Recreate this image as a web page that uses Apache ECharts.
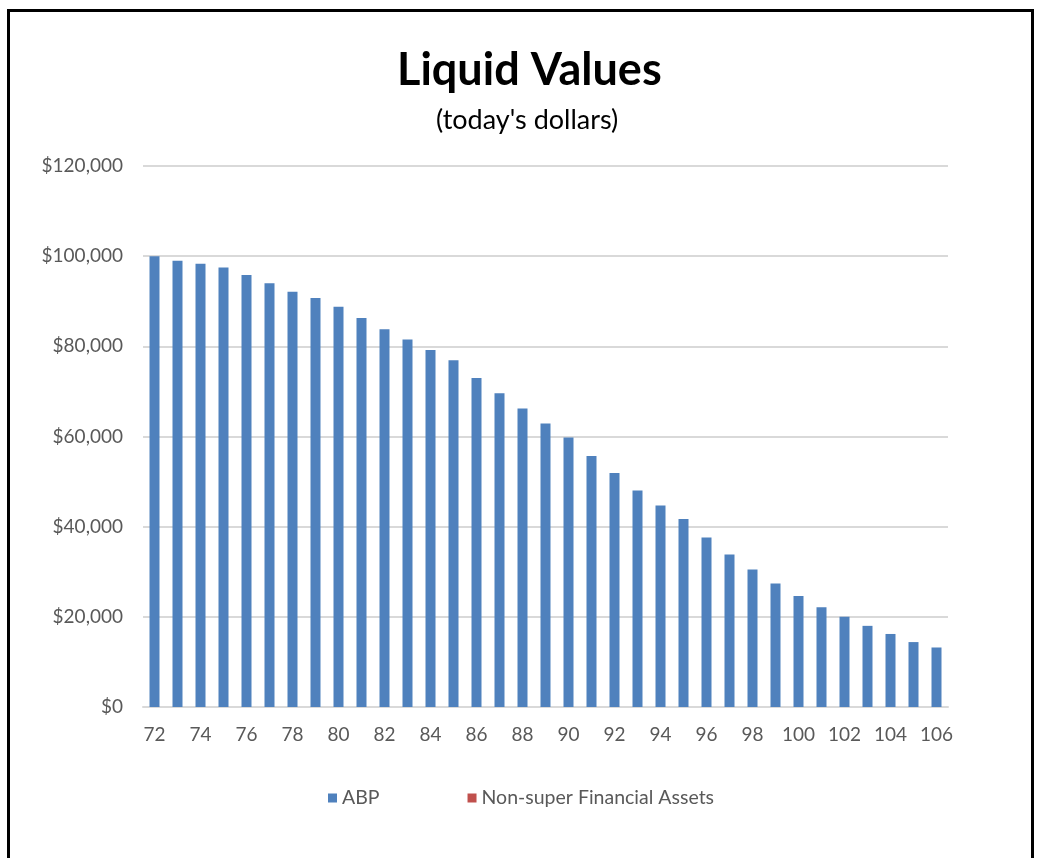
<!DOCTYPE html>
<html>
<head>
<meta charset="utf-8">
<script src="https://cdn.jsdelivr.net/npm/echarts@6/dist/echarts.min.js"></script>
<style>
html,body{margin:0;padding:0;background:#fff;overflow:hidden;}
#frame{position:absolute;left:7px;top:9px;width:1021px;height:900px;border:3px solid #000;box-sizing:content-box;}
#chart{position:absolute;left:0;top:0;width:1037px;height:858px;}
</style>
</head>
<body>
<div id="frame"></div>
<div id="chart"></div>
<script>
const ages = ['72','73','74','75','76','77','78','79','80','81','82','83','84','85','86','87','88','89','90','91','92','93','94','95','96','97','98','99','100','101','102','103','104','105','106'];
const abp = [100000,99000,98300,97500,95800,94000,92100,90700,88800,86300,83800,81500,79200,76900,73000,69600,66200,62900,59800,55700,51900,48000,44700,41700,37600,33800,30500,27400,24600,22100,20000,18000,16200,14400,13200];
const nonSuper = [0,0,0,0,0,0,0,0,0,0,0,0,0,0,0,0,0,0,0,0,0,0,0,0,0,0,0,0,0,0,0,0,0,0,0];
const yTicks = [0,20000,40000,60000,80000,100000,120000];

const FONT = 'Lato, "Open Sans", sans-serif';
const chart = echarts.init(document.getElementById('chart'), null, {renderer:'canvas'});
chart.setOption({
  backgroundColor: 'transparent',
  animation: false,
  title: [
    {text: 'Liquid Values', left: 392, top: 43, textStyle: {fontFamily: FONT, fontSize: 45, fontWeight: 'bold', color: '#000'}},
    {text: "(today's dollars)", left: 431, top: 102, textStyle: {fontFamily: FONT, fontSize: 27, fontWeight: 'normal', color: '#000'}}
  ],
  grid: {left: 143, right: 89, top: 166, bottom: 151, containLabel: false},
  legend: {
    bottom: 45, left: 323, itemWidth: 9, itemHeight: 9, itemGap: 88, icon: 'rect',
    textStyle: {fontFamily: FONT, fontSize: 19.5, color: '#595959'},
    data: ['ABP', 'Non-super Financial Assets']
  },
  xAxis: {
    type: 'category', data: ages,
    axisLine: {lineStyle: {color: '#d9d9d9', width: 2}},
    axisTick: {show: false},
    axisLabel: {interval: 1, fontFamily: FONT, fontSize: 19, color: '#595959', margin: 18}
  },
  yAxis: {
    type: 'value', min: yTicks[0], max: yTicks[yTicks.length-1], interval: 20000,
    axisLine: {show: false}, axisTick: {show: false},
    splitLine: {lineStyle: {color: '#d9d9d9', width: 2}},
    axisLabel: {fontFamily: FONT, fontSize: 19, color: '#595959', margin: 20,
      formatter: v => '$' + v.toLocaleString('en-US')}
  },
  series: [
    {name: 'ABP', type: 'bar', stack: 'total', data: abp, barWidth: 10,
      itemStyle: {color: '#4f81bd'}},
    {name: 'Non-super Financial Assets', type: 'bar', stack: 'total', data: nonSuper, barWidth: 10,
      itemStyle: {color: '#c0504d'}}
  ]
});
</script>
</body>
</html>
